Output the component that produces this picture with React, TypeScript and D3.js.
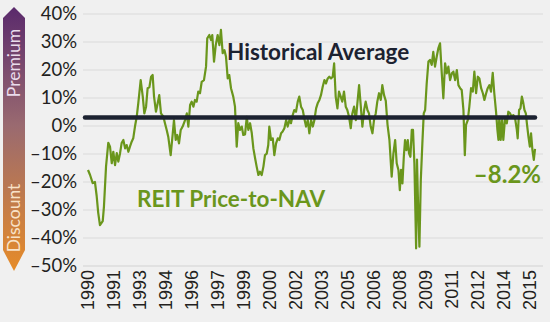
import React from "react";
import * as d3 from "d3";

const years: number[] = [
  1990.0, 1990.12, 1990.27, 1990.4, 1990.5, 1990.59, 1990.69, 1990.85, 1990.92, 1991.04,
  1991.17, 1991.27, 1991.37, 1991.46, 1991.56, 1991.66, 1991.75, 1991.85, 1991.94, 1992.04,
  1992.14, 1992.23, 1992.33, 1992.42, 1992.52, 1992.61, 1992.71, 1992.81, 1992.9, 1993.04,
  1993.16, 1993.25, 1993.35, 1993.44, 1993.54, 1993.64, 1993.73, 1993.81, 1993.92, 1994.02,
  1994.11, 1994.21, 1994.35, 1994.44, 1994.54, 1994.63, 1994.77, 1994.89, 1994.96, 1995.06,
  1995.15, 1995.25, 1995.35, 1995.46, 1995.6, 1995.7, 1995.79, 1995.89, 1995.98, 1996.08,
  1996.17, 1996.27, 1996.36, 1996.46, 1996.56, 1996.69, 1996.81, 1996.88, 1997.0, 1997.1,
  1997.17, 1997.27, 1997.37, 1997.48, 1997.58, 1997.67, 1997.77, 1997.87, 1997.96, 1998.06,
  1998.15, 1998.25, 1998.38, 1998.48, 1998.58, 1998.67, 1998.77, 1998.87, 1998.96, 1999.06,
  1999.16, 1999.25, 1999.35, 1999.45, 1999.54, 1999.64, 1999.73, 1999.83, 1999.92, 2000.02,
  2000.12, 2000.21, 2000.31, 2000.4, 2000.46, 2000.56, 2000.66, 2000.75, 2000.85, 2000.95,
  2001.04, 2001.14, 2001.23, 2001.33, 2001.43, 2001.52, 2001.62, 2001.71, 2001.81, 2001.9,
  2002.0, 2002.1, 2002.19, 2002.29, 2002.39, 2002.48, 2002.58, 2002.68, 2002.77, 2002.87,
  2002.97, 2003.06, 2003.16, 2003.25, 2003.35, 2003.44, 2003.54, 2003.64, 2003.73, 2003.83,
  2003.92, 2004.02, 2004.12, 2004.2, 2004.29, 2004.39, 2004.48, 2004.58, 2004.67, 2004.77,
  2004.87, 2004.96, 2005.06, 2005.16, 2005.25, 2005.35, 2005.45, 2005.54, 2005.64, 2005.74,
  2005.83, 2005.93, 2006.02, 2006.12, 2006.21, 2006.31, 2006.41, 2006.5, 2006.6, 2006.69,
  2006.79, 2006.89, 2006.98, 2007.08, 2007.18, 2007.28, 2007.39, 2007.52, 2007.62, 2007.72,
  2007.81, 2007.91, 2007.99, 2008.06, 2008.14, 2008.22, 2008.29, 2008.37, 2008.45, 2008.52,
  2008.6, 2008.68, 2008.75, 2008.83, 2008.89, 2008.93, 2008.98, 2009.04, 2009.12, 2009.2,
  2009.29, 2009.37, 2009.45, 2009.54, 2009.64, 2009.73, 2009.83, 2009.92, 2010.02, 2010.12,
  2010.21, 2010.31, 2010.41, 2010.5, 2010.6, 2010.7, 2010.79, 2010.89, 2010.99, 2011.08,
  2011.18, 2011.28, 2011.37, 2011.47, 2011.56, 2011.66, 2011.74, 2011.81, 2011.91, 2012.0,
  2012.1, 2012.2, 2012.29, 2012.39, 2012.49, 2012.58, 2012.68, 2012.78, 2012.87, 2012.97,
  2013.06, 2013.16, 2013.25, 2013.35, 2013.44, 2013.54, 2013.62, 2013.68, 2013.73, 2013.81,
  2013.89, 2013.96, 2014.06, 2014.16, 2014.25, 2014.35, 2014.45, 2014.54, 2014.64, 2014.74,
  2014.79, 2014.87, 2014.95, 2015.03, 2015.1, 2015.18, 2015.26, 2015.33, 2015.41, 2015.49,
  2015.56, 2015.64, 2015.72, 2015.79,
];

const values: number[] = [
  -15.7, -17.5, -20.4, -20, -25, -31, -35.4, -34, -28.8, -14.5,
  -6, -7.4, -13.3, -9.2, -14, -9.7, -12.7, -9.7, -6.1, -5,
  -8, -6.8, -9.2, -7.4, -5.6, -4.4, -0.2, 3.3, 8.1, 16.4,
  10.5, 4.5, 6.9, 13.5, 13.8, 17.6, 18.2, 10.5, 5.1, 8.1,
  11, 4.5, 3.3, 1, -1.4, -3.8, -10.4, -2.6, 2.1, -5,
  -3.2, -6.2, -1.4, -0.2, 2.1, 4.5, -0.2, 7.5, 8.7, 6.9,
  9.3, 8.7, 12.3, 11.7, 15.8, 16.4, 21.2, 31.3, 32.5, 30.7,
  32.5, 23, 28.9, 32.5, 28.9, 34.3, 26, 27.1, 24.8, 17,
  18.2, 13.5, 10.5, 6.9, -7.4, 1, -1.4, -0.2, -3.2, -3,
  3.3, -1.4, 1, -2.6, -8, -11.5, -14.5, -17.5, -16.3, -17.5,
  -14.5, -10.4, -9.9, -6.8, -0.2, -5, -4.4, -10.4, -6.2, -4.4,
  -5, -2.6, -2, -0.8, 2.1, -0.2, 2.1, 1, 3.9, 5.7,
  5.1, 8.7, 10.5, 6.9, 5.7, 2.7, -0.2, 2.1, -2.6, 2.1,
  -0.2, 2.1, 6.3, 8.1, 9.3, 11, 14, 16.4, 15.2, 17,
  17.6, 17, 17.6, 22.4, 10.5, 6.3, 12.3, 10.5, 8.7, 12.3,
  6.9, 5.7, 3.3, -0.8, 4.5, 6.9, 2.1, 8.1, 14.6, 6.9,
  -0.2, 5.7, 8.7, 5.7, 4.5, -0.2, -2.6, 2.1, 4.5, 8.7,
  11.7, 9.3, 14.6, 11, 9, 0.5, -5, -18.1, -9.8, -5,
  -13.3, -15.7, -22.9, -15.7, -20.5, -11, -5, -8.6, -5, -9.8,
  -11, -1.4, -1.4, -13.3, -31.2, -43.7, -12, -27.6, -43.1, -19.3,
  -6.2, 4.5, 5.7, 15.2, 23, 23.6, 21.8, 26.5, 21.2, 24.8,
  27.7, 29.5, 18.8, 9.9, 22.4, 18.8, 21.2, 16.4, 18.8, 19.4,
  16.4, 20, 14.6, 13.5, 12.9, 5.7, -10.4, 0.4, 2.1, 6.9,
  13.5, 12.3, 19.4, 11.7, 17.6, 17, 13.5, 11.7, 9.3, 11.7,
  13.5, 14.6, 12.3, 19, 11.7, 5.1, -1.4, -5, 3.3, -5,
  2.1, -5, 2.7, 0.9, 5.1, 4.5, 3.3, 3.9, 2.7, -1.4,
  -4.4, 5.7, 6.3, 10.5, 8.7, 5.7, 4.5, 0.4, -3.8, -7.4,
  -2.6, -8.6, -12.1, -8.2,
];

const yTicks: number[] = [40, 30, 20, 10, 0, -10, -20, -30, -40, -50];
const xTickYears: number[] = [
  1990, 1991.5, 1993, 1994.5, 1996, 1997.5, 1999, 2000.5, 2002, 2003.5,
  2005, 2006.5, 2008, 2009.5, 2011, 2012.5, 2014, 2015.5,
];
const historicalAverage = 3;
const lastValueLabel = "\u20138.2%";

const W = 550;
const H = 322;
const GREEN = "#6a961c";
const NAVY = "#1c2231";

export default function App() {
  const x = d3.scaleLinear().domain([1990, 2015.5]).range([88, 530]);
  const y = d3.scaleLinear().domain([-50, 40]).range([266, 14]);
  const pts: [number, number][] = years.map((t, i) => [t, values[i]]);
  const line = d3
    .line<[number, number]>()
    .x((d) => x(d[0]))
    .y((d) => y(d[1]));
  const gridX0 = 83;
  const gridX1 = 543;
  const fmt = (v: number) => (v < 0 ? "\u2013" + Math.abs(v) : String(v)) + "%";

  return (
    <div style={{ position: "absolute", left: 0, top: 0 }}>
      <svg width={W} height={H} style={{ display: "block", background: "#f0f0f0" }}>
        <defs>
          <linearGradient id="pd" x1="0" y1="0" x2="0" y2="1">
            <stop offset="0%" stopColor="#5a2a6c" />
            <stop offset="45%" stopColor="#9a6a70" />
            <stop offset="100%" stopColor="#e68b28" />
          </linearGradient>
        </defs>
        <rect x={0} y={0} width={W} height={H} fill="#f0f0f0" />
        {/* premium / discount bar */}
        <polygon points="3,18 14,7 25,18 25,250 14,271 3,250" fill="url(#pd)" />
        <text
          transform="translate(19.5,63) rotate(-90)"
          textAnchor="middle"
          fontFamily="Lato"
          fontSize={17.5}
          fill="#eadcec"
        >
          Premium
        </text>
        <text
          transform="translate(19.5,218) rotate(-90)"
          textAnchor="middle"
          fontFamily="Lato"
          fontSize={17.5}
          fill="#f8e2c8"
        >
          Discount
        </text>
        {/* gridlines */}
        {yTicks.map((v) => (
          <line
            key={v}
            x1={gridX0}
            x2={gridX1}
            y1={y(v)}
            y2={y(v)}
            stroke={v === -50 ? "#dcdcdc" : "#e2e2e2"}
            strokeWidth={1.5}
          />
        ))}
        {/* y labels */}
        {yTicks.map((v) => (
          <text
            key={"l" + v}
            x={77}
            y={y(v)}
            dy="0.35em"
            textAnchor="end"
            fontFamily="Lato"
            fontSize={18.5}
            fill="#231f20"
          >
            {fmt(v)}
          </text>
        ))}
        {/* x labels */}
        {xTickYears.map((t) => (
          <text
            key={t}
            transform={`translate(${x(t)},270) rotate(-90)`}
            dy="0.35em"
            textAnchor="end"
            fontFamily="Liberation Sans"
            fontSize={18}
            fill="#231f20"
          >
            {Math.floor(t)}
          </text>
        ))}
        {/* series */}
        <path d={line(pts) || ""} fill="none" stroke={GREEN} strokeWidth={2.2} strokeLinejoin="round" />
        {/* historical average */}
        <line
          x1={85}
          x2={535}
          y1={y(historicalAverage)}
          y2={y(historicalAverage)}
          stroke={NAVY}
          strokeWidth={4.5}
          strokeLinecap="round"
        />
        <text x={227} y={60} fontFamily="Lato" fontWeight="bold" fontSize={22.5} fill={NAVY}>
          Historical Average
        </text>
        <text x={137} y={207} fontFamily="Lato" fontWeight="bold" fontSize={22.5} fill={GREEN}>
          REIT Price-to-NAV
        </text>
        <text x={541} y={183} textAnchor="end" fontFamily="Lato" fontWeight="bold" fontSize={24} fill={GREEN}>
          {lastValueLabel}
        </text>
      </svg>
    </div>
  );
}
